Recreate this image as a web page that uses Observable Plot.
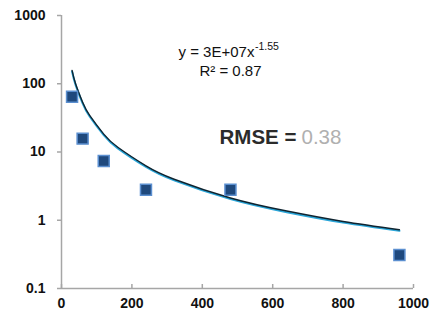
<!DOCTYPE html>
<html>
<head>
<meta charset="utf-8">
<script src="https://cdn.jsdelivr.net/npm/d3@7"></script>
<script src="https://cdn.jsdelivr.net/npm/@observablehq/plot@0.6"></script>
<style>
  html, body { margin: 0; padding: 0; background: #fff; }
  #chart svg { display: block; }
</style>
</head>
<body>
<div id="chart"></div>
<script>
// Observed points
const xValues = [30, 60, 120, 240, 480, 960];
const yValues = [64.5, 15.7, 7.4, 2.8, 2.8, 0.31];

// Power trendline
const fitX = [30, 40, 60, 80, 120, 160, 240, 320, 480, 640, 800, 960];
const fitY = [155, 99, 53, 34, 18.1, 11.6, 6.2, 3.95, 2.1, 1.35, 0.95, 0.72];

// Axis ticks
const xTicks = [0, 200, 400, 600, 800, 1000];
const yTicks = [0.1, 1, 10, 100, 1000];
const yTickLabels = ["0.1", "1", "10", "100", "1000"];

// Annotations
const equationText = "y = 3E+07x";
const exponentText = "-1.55";
const r2Text = "R² = 0.87";
const rmseLabel = "RMSE =";
const rmseValue = "0.38";

const points = xValues.map((x, i) => ({x, y: yValues[i]}));
const fit = fitX.map((x, i) => ({x, y: fitY[i]}));

const font = "Liberation Sans, Arial, sans-serif";
const axisGray = "#a6a6a6";

const chart = Plot.plot({
  width: 433,
  height: 322,
  marginLeft: 61,
  marginRight: 20,
  marginTop: 15,
  marginBottom: 34,
  style: {fontFamily: font, background: "#fff", overflow: "visible"},
  x: {domain: [0, 1000]},
  y: {type: "log", domain: [0.1, 1000]},
  marks: [
    // axis lines
    Plot.ruleX([0], {y1: 0.1, y2: 1000, stroke: axisGray, strokeWidth: 1.5}),
    Plot.ruleY([0.1], {x1: 0, x2: 1000, stroke: axisGray, strokeWidth: 1.5}),
    // y axis
    Plot.axisY({
      ticks: yTicks,
      tickFormat: d => yTickLabels[yTicks.indexOf(d)],
      tickSize: 4,
      tickPadding: 12,
      stroke: axisGray,
      strokeWidth: 1.5,
      fill: "#111",
      fontWeight: "bold",
      fontSize: 14,
      label: null
    }),
    // x axis ticks (pointing inward)
    Plot.axisX({
      ticks: xTicks,
      tickSize: 4,
      dy: -4,
      tickFormat: () => "",
      stroke: axisGray,
      strokeWidth: 1.5,
      label: null
    }),
    // x axis labels
    Plot.axisX({
      ticks: xTicks,
      tickSize: 0,
      tickPadding: 10,
      tickFormat: d => String(d),
      fill: "#111",
      fontWeight: "bold",
      fontSize: 14,
      label: null
    }),
    // trendline (cyan under-stroke + dark line)
    Plot.line(fit, {x: "x", y: "y", curve: "natural", stroke: "#2aa6d9", strokeWidth: 2, dy: 0.8}),
    Plot.line(fit, {x: "x", y: "y", curve: "natural", stroke: "#0f2430", strokeWidth: 1.4, dy: -0.3}),
    // data points
    Plot.dot(points, {
      x: "x", y: "y", symbol: "square", r: 6.2,
      fill: "#1f497d", stroke: "#5b8fd0", strokeWidth: 1.5
    }),
    // equation
    Plot.text([equationText], {
      frameAnchor: "top-left", dx: 117, dy: 37, text: d => d,
      textAnchor: "start", lineAnchor: "middle", fontSize: 15, fill: "#111"
    }),
    Plot.text([exponentText], {
      frameAnchor: "top-left", dx: 193.5, dy: 31, text: d => d,
      textAnchor: "start", lineAnchor: "middle", fontSize: 10.5, fill: "#111"
    }),
    Plot.text([r2Text], {
      frameAnchor: "top-left", dx: 169, dy: 55.5, text: d => d,
      textAnchor: "middle", lineAnchor: "middle", fontSize: 15, fill: "#111"
    }),
    // RMSE
    Plot.text([rmseLabel], {
      frameAnchor: "top-left", dx: 158, dy: 121.5, text: d => d,
      textAnchor: "start", lineAnchor: "middle", fontSize: 20.5, fontWeight: "bold", fill: "#2b2b2b"
    }),
    Plot.text([rmseValue], {
      frameAnchor: "top-left", dx: 240, dy: 121.5, text: d => d,
      textAnchor: "start", lineAnchor: "middle", fontSize: 20.5, fill: "#b0b0b0"
    })
  ]
});

document.getElementById("chart").appendChild(chart);
</script>
</body>
</html>
